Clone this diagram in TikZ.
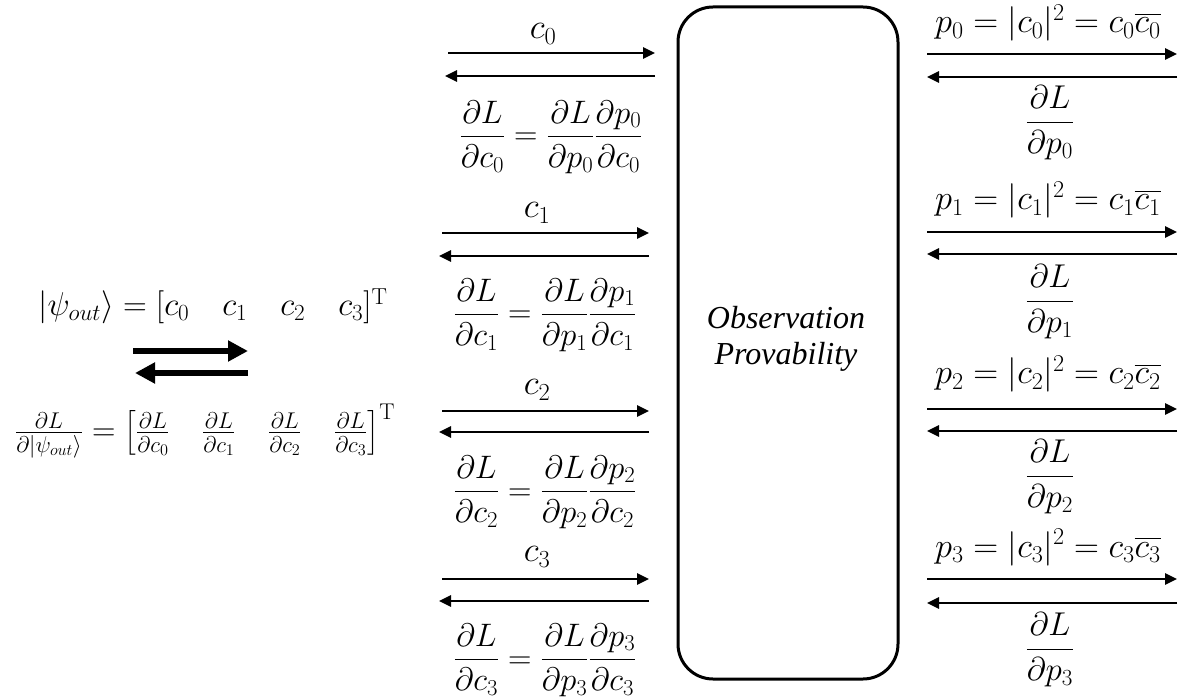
\RequirePackage{fix-cm}
\documentclass[tikz,border=0pt]{standalone}
\usepackage{amsmath}
\usepackage{fontspec}
\newfontfamily\tnr{Liberation Serif}[ItalicFont={Liberation Serif Italic}]
\usetikzlibrary{arrows.meta}
\begin{document}
\begin{tikzpicture}[x=1pt,y=-1pt,
  clbl/.style={inner sep=0pt, font=\fontsize{35}{40}\selectfont},
  dcfrac/.style={inner sep=0pt, font=\fontsize{32.5}{38}\selectfont},
  plbl/.style={inner sep=0pt, font=\fontsize{34.5}{40}\selectfont},
  dpfrac/.style={inner sep=0pt, font=\fontsize{33}{38}\selectfont},
  eqtop/.style={inner sep=0pt, font=\fontsize{33}{38}\selectfont},
  eqbot/.style={inner sep=0pt, font=\fontsize{32.5}{38}\selectfont},
  obs/.style={inner sep=0pt, font=\fontsize{32}{36}\selectfont\tnr\itshape},
  arr/.style={line width=2.6pt, -{Triangle[length=12pt,width=11pt]}},
  bigarr/.style={line width=6pt, -{Triangle[length=20pt,width=20pt]}},
  boxstyle/.style={draw, line width=3pt, rounded corners=35pt, minimum width=220pt, minimum height=672pt, inner sep=0pt}
]
\useasboundingbox (0,0) rectangle (1181,700);

% central box
\node[boxstyle] (box) at (788,343) {};
\node[obs, anchor=base] (obs1) at (786,329) {Observation};
\node[obs, anchor=base] (obs2) at (786,365) {Provability};

% left part
\node[eqtop, anchor=base] (psi) at (213,316) {$|\psi_{out}\rangle = [c_0\quad c_1\quad c_2\quad c_3]^{\mathrm{T}}$};
\node[eqbot, anchor=base] (grad) at (205,441) {$\frac{\partial L}{\partial|\psi_{out}\rangle} = \left[\frac{\partial L}{\partial c_0}\quad \frac{\partial L}{\partial c_1}\quad\frac{\partial L}{\partial c_2}\quad\frac{\partial L}{\partial c_3}\right]^{\mathrm{T}}$};
\coordinate (bA) at (133,351);
\coordinate (bB) at (248,351);
\coordinate (bC) at (248,373);
\coordinate (bD) at (135,373);
\draw[bigarr] (bA) -- (bB);
\draw[bigarr] (bC) -- (bD);

% left column groups
\foreach \i/\cx/\ly/\ra/\la/\fl in {0/551/34/53/76/137, 1/545/213/233/256/315, 2/545/390/411/432/492, 3/545/557/579/601/660}{
  \node[clbl] (c\i) at (\cx-8,\ly) {$c_{\i}$};
  \coordinate (ls\i) at (\cx-103,\ra);
  \coordinate (le\i) at (\cx+104,\ra);
  \coordinate (ms\i) at (\cx+104,\la);
  \coordinate (me\i) at (\cx-106,\la);
  \draw[arr] (ls\i) -- (le\i);
  \draw[arr] (ms\i) -- (me\i);
  \node[dcfrac, anchor=base] (dc\i) at (\cx,\fl+8) {$\dfrac{\partial L}{\partial c_{\i}} = \dfrac{\partial L}{\partial p_{\i}}\dfrac{\partial p_{\i}}{\partial c_{\i}}$};
}

% right column groups
\foreach \i/\lb/\ra/\la/\fl in {0/33/54/77/123, 1/210/232/254/302, 2/384/409/431/477, 3/557/579/603/650}{
  \node[plbl, anchor=base] (p\i) at (1048,\lb) {$p_{\i} = |c_{\i}|^2 = c_{\i}\overline{c_{\i}}$};
  \coordinate (rs\i) at (927,\ra);
  \coordinate (re\i) at (1177,\ra);
  \coordinate (ns\i) at (1177,\la);
  \coordinate (ne\i) at (927,\la);
  \draw[arr] (rs\i) -- (re\i);
  \draw[arr] (ns\i) -- (ne\i);
  \node[dpfrac, anchor=base] (dp\i) at (1050,\fl+8) {$\dfrac{\partial L}{\partial p_{\i}}$};
}
\end{tikzpicture}
\end{document}
